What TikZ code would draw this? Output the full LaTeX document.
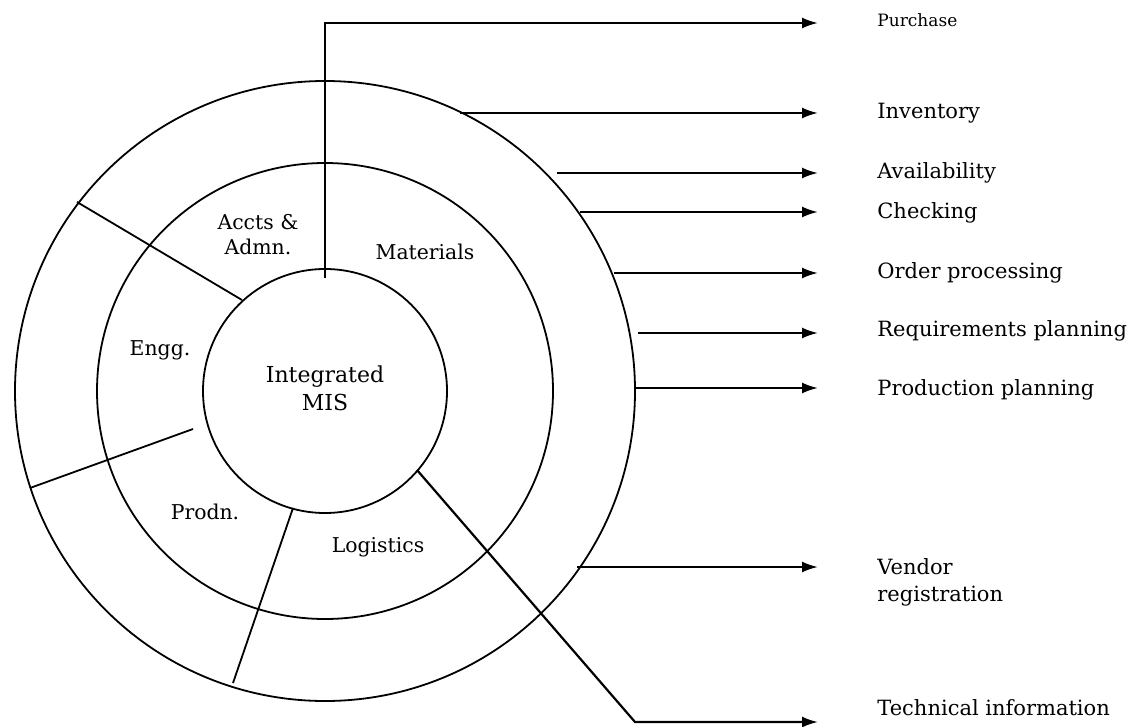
\documentclass[tikz,border=0pt]{standalone}
\usepackage{fontspec}
\setmainfont{DejaVu Serif}
\usetikzlibrary{arrows.meta}

\tikzset{
  ring/.style={line width=0.9pt},
  flow/.style={line width=1.1pt,-{Latex[length=8pt,width=5.5pt]}},
  lbl/.style={anchor=west,inner sep=0pt,align=left,font=\fontsize{10.5}{13.5}\selectfont},
  sector/.style={align=center,inner sep=0pt,font=\fontsize{10.2}{12.5}\selectfont},
}

\begin{document}
\begin{tikzpicture}[x=0.5pt,y=-0.5pt]
\useasboundingbox (0,0) rectangle (1144,727);

% rings
\draw[ring] (325,391) circle[radius=122];
\draw[ring] (325,391) circle[radius=228];
\draw[ring] (325,391) circle[radius=310];

% sector borders
\draw[ring] (77,202) -- (242,300);
\draw[ring] (30,488) -- (193,429);
\draw[ring] (293,508) -- (233,683);

% sector names
\node[sector,font=\fontsize{11}{14}\selectfont] (mis) at (325,388) {Integrated\\MIS};
\node[sector] (accts) at (258,235) {Accts \&\\Admn.};
\node[sector] (mat) at (425,252) {Materials};
\node[sector] (engg) at (160,350) {Engg.};
\node[sector] (prodn) at (205,512) {Prodn.};
\node[sector] (logi) at (378,547) {Logistics};

% outputs
\node[lbl,font=\fontsize{8.5}{10}\selectfont] (purch) at (877,20) {Purchase};
\coordinate (purch-s) at (325,278);
\coordinate (purch-b) at (325,23);
\coordinate (purch-t) at (818,23);
\draw[flow] (purch-s) -- (purch-b) -- (purch-t);

\foreach \nm/\sx/\ay/\ly/\txt in {
    inv/460/113/113/Inventory,
    avail/557/173/173/Availability,
    check/580/212/213/Checking,
    order/614/273/273/Order processing,
    reqp/638/333/331/Requirements planning,
    prodp/636/388/390/Production planning,
    vendor/577/567/582/{Vendor\\registration}}{
  \coordinate (\nm-s) at (\sx,\ay);
  \coordinate (\nm-t) at (818,\ay);
  \draw[flow] (\nm-s) -- (\nm-t);
  \node[lbl] (\nm) at (877,\ly) {\txt};
}

\node[lbl] (tech) at (877,708) {Technical information};
\coordinate (tech-s) at (417,470);
\coordinate (tech-b) at (635,722);
\coordinate (tech-t) at (818,722);
\draw[flow] (tech-s) -- (tech-b) -- (tech-t);
\end{tikzpicture}
\end{document}
